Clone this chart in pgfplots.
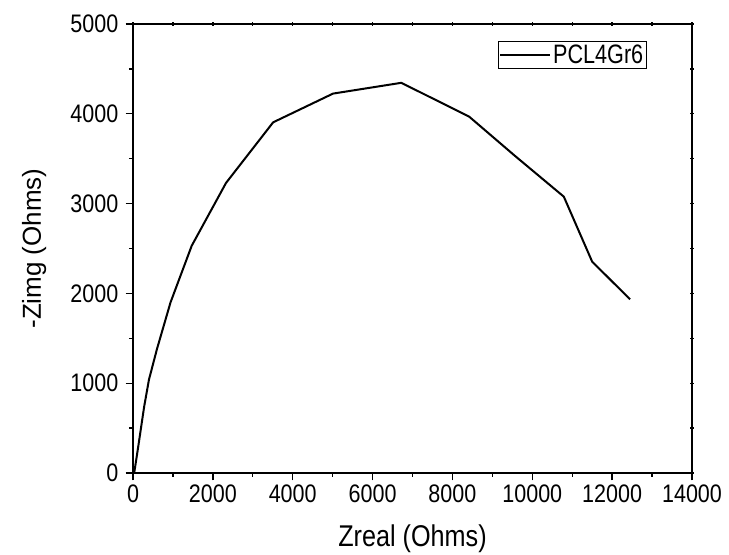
\documentclass[border=0pt]{standalone}
\usepackage{fontspec}
\setmainfont{Liberation Sans}
\usepackage{pgfplots}
\pgfplotsset{compat=1.18}

\newfontfamily\tickfont[FakeStretch=0.85]{Liberation Sans}
\newfontfamily\legfont[FakeStretch=0.81]{Liberation Sans}
\newfontfamily\xlabfont[FakeStretch=0.84]{Liberation Sans}

\pgfplotsset{frame/.style={
  scale only axis,
  width=419.25pt, height=336.75pt,
  xmin=0, xmax=14000, ymin=0, ymax=5000,
  scaled ticks=false,
  axis line style={line width=1.2pt},
  every tick/.style={black, line width=1pt},
}}

\begin{document}
\begin{tikzpicture}
% tiny mirror ticks on top and right
\begin{axis}[frame,
  xtick={0,1000,...,14000}, ytick={0,500,...,5000},
  xtick pos=top, ytick pos=right, tick align=center,
  major tick length=2.5pt,
  xticklabels={}, yticklabels={},
]
\end{axis}
\begin{axis}[frame,
  xtick={0,2000,...,14000}, ytick={0,1000,...,5000},
  minor x tick num=1, minor y tick num=1,
  xtick pos=bottom, ytick pos=left,
  tick align=outside,
  major tick length=5.5pt, minor tick length=3pt,
  /pgf/number format/assume math mode=true,
  /pgf/number format/1000 sep={},
  tick label style={font=\tickfont\fontsize{19}{21}\selectfont},
  yticklabel style={xshift=-2pt},
  xlabel={Zreal (Ohms)}, ylabel={-Zimg (Ohms)},
  xlabel style={font=\xlabfont\fontsize{22.5}{24}\selectfont,
    at={([yshift=-55pt]axis description cs:0.5,0)}, anchor=base},
  ylabel style={font=\fontsize{19.5}{22}\selectfont,
    at={([xshift=-69pt]axis description cs:0,0.5)}, anchor=base},
  legend style={at={(0.9195,0.962)}, anchor=north east, draw=black, line width=0.6pt,
    font=\legfont\fontsize{20}{22}\selectfont, inner sep=0.5pt, row sep=0pt},
  legend image code/.code={\draw[#1, line width=1.5pt] (0cm,0cm) -- (1.3cm,0cm);},
]
\addplot[black, line width=1.5pt] coordinates {
  (30,0) (130,290) (280,740) (400,1040) (600,1380) (940,1900) (1470,2530)
  (2330,3230) (3510,3905) (5010,4225) (6720,4345) (8420,3968) (9570,3530)
  (10790,3077) (11500,2353) (12450,1934)
};
\addlegendentry{PCL4Gr6}
\coordinate (sw) at (rel axis cs:0,0);
\coordinate (ne) at (rel axis cs:1,1);
\end{axis}
\pgfresetboundingbox
\path ([xshift=-99.75pt,yshift=-61.5pt]sw) rectangle ([xshift=27.75pt,yshift=18pt]ne);
\end{tikzpicture}
\end{document}
